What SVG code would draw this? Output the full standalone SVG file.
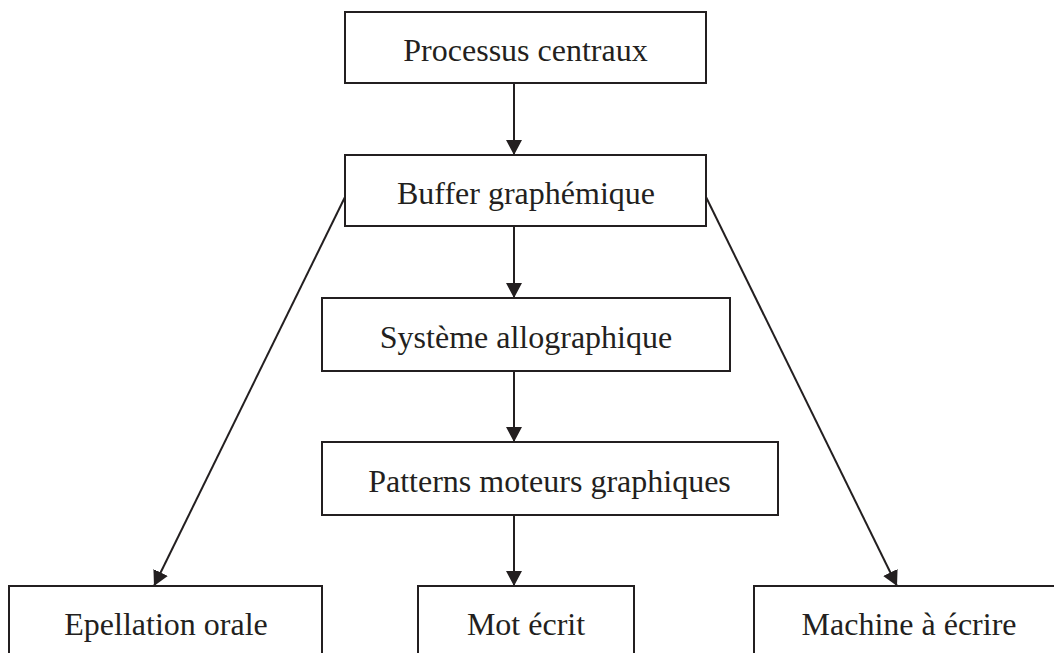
<svg xmlns="http://www.w3.org/2000/svg" width="1054" height="653" viewBox="0 0 1054 653">
  <style>
    .box { fill: #ffffff; stroke: #231f20; stroke-width: 2; }
    .lbl { font-family: "Liberation Serif", "Times New Roman", serif; font-size: 32px; fill: #231f20; text-anchor: middle; }
    .edge { stroke: #231f20; stroke-width: 2; fill: none; marker-end: url(#arrow); }
  </style>
  <defs>
    <marker id="arrow" markerUnits="userSpaceOnUse" markerWidth="16" markerHeight="16" viewBox="0 0 16 16" refX="15" refY="8" orient="auto">
      <path d="M0,0 L15,8 L0,16 Z" fill="#231f20"/>
    </marker>
  </defs>
  <rect width="1054" height="653" fill="#ffffff"/>

  <g id="connectors">
    <line class="edge" x1="514" y1="83" x2="514" y2="155"/>
    <line class="edge" x1="514" y1="226" x2="514" y2="298"/>
    <line class="edge" x1="514" y1="371" x2="514" y2="442"/>
    <line class="edge" x1="514" y1="515" x2="514" y2="586"/>
    <line class="edge" x1="345" y1="197" x2="154" y2="586"/>
    <line class="edge" x1="706" y1="197" x2="897" y2="586"/>
  </g>

  <g id="processus">
    <rect class="box" x="345" y="12" width="361" height="71"/>
    <text class="lbl" x="525.5" y="61">Processus centraux</text>
  </g>
  <g id="buffer">
    <rect class="box" x="345" y="155" width="361" height="71"/>
    <text class="lbl" x="526" y="204">Buffer graphémique</text>
  </g>
  <g id="systeme">
    <rect class="box" x="322" y="298" width="408" height="73"/>
    <text class="lbl" x="526" y="348">Système allographique</text>
  </g>
  <g id="patterns">
    <rect class="box" x="322" y="442" width="456" height="73"/>
    <text class="lbl" x="549.5" y="492">Patterns moteurs graphiques</text>
  </g>
  <g id="epellation">
    <rect class="box" x="9" y="586" width="313" height="80"/>
    <text class="lbl" x="166" y="635">Epellation orale</text>
  </g>
  <g id="mot">
    <rect class="box" x="418" y="586" width="216" height="80"/>
    <text class="lbl" x="526" y="635">Mot écrit</text>
  </g>
  <g id="machine">
    <rect class="box" x="754" y="586" width="310" height="80"/>
    <text class="lbl" x="909" y="635">Machine à écrire</text>
  </g>
</svg>
